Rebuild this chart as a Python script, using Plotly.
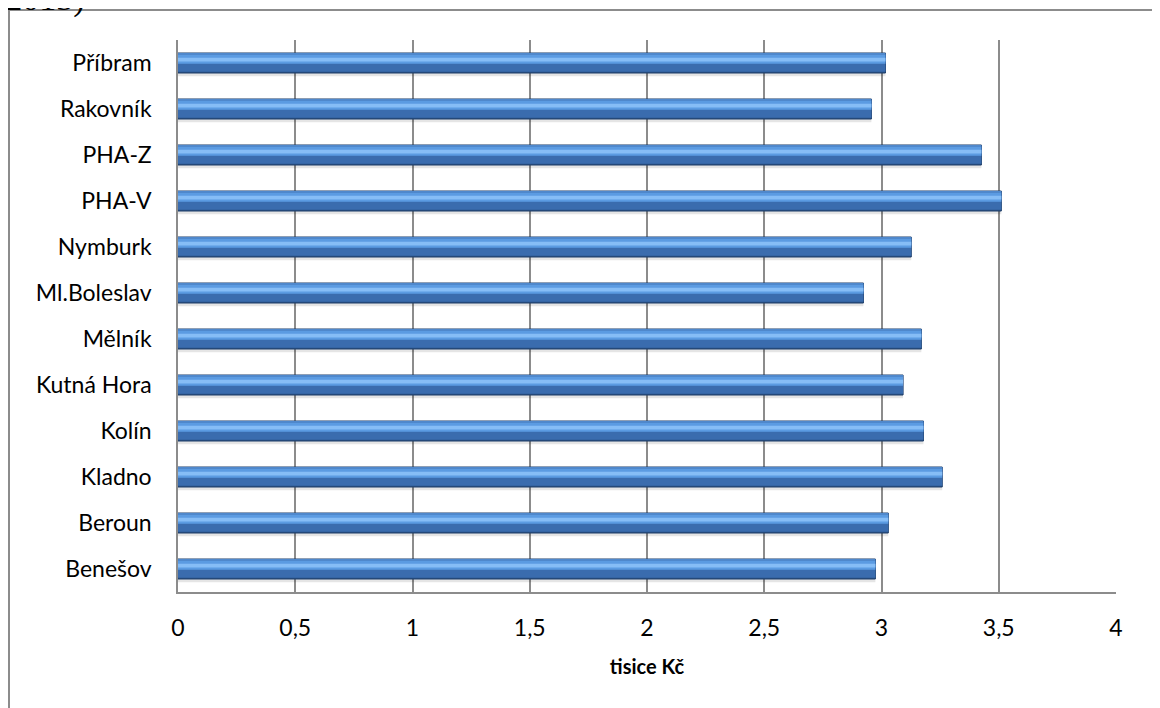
import plotly.graph_objects as go

# okresy (zdola nahoru, jak je kreslí plotly)
okresy = ["Benešov", "Beroun", "Kladno", "Kolín", "Kutná Hora", "Mělník",
          "Ml.Boleslav", "Nymburk", "PHA-V", "PHA-Z", "Rakovník", "Příbram"]
hodnoty = [2.974, 3.029, 3.259, 3.179, 3.092, 3.170,
           2.923, 3.127, 3.511, 3.426, 2.957, 3.017]

tick_vals = [0, 0.5, 1, 1.5, 2, 2.5, 3, 3.5, 4]
tick_text = ["0", "0,5", "1", "1,5", "2", "2,5", "3", "3,5", "4"]

W, H = 1160, 708
# stránka má okraj 8 px, proto je vše posunuto
L, R, T, B = 170, 52, 32, 124
PW, PH = W - L - R, H - T - B
font = "Lato"

fig = go.Figure()

bw = 0.435  # tloušťka pruhu v jednotkách kategorie
half = bw / 2

# "3D" vzhled pruhu skládáme z několika vrstev (offset, šířka, barva)
layers = [
    (-half - 0.07, bw, "rgba(0,0,0,0.10)", 0),          # stín
    (-half, bw, "#2b5286", 1),                            # okraj / tmavý spodek
    (-half + 0.03, bw - 0.05, "#3a6cae", 0),             # střed
    (-half + 0.20, 0.19, "#5b9be2", 0),                  # světlý pás
    (-half + 0.25, 0.08, "#86bdf6", 0),                  # odlesk
    (-half + 0.40, 0.03, "#4f88cc", 0),                  # horní hrana
]
for off, w, col, lw in layers:
    fig.add_trace(go.Bar(
        y=okresy, x=hodnoty, orientation="h",
        offset=off, width=w,
        marker=dict(color=col, line=dict(color="#1f3f6a", width=lw)),
        hoverinfo="x+y", showlegend=False,
    ))

fig.update_layout(
    width=W, height=H,
    margin=dict(l=L, r=R, t=T, b=B),
    barmode="overlay",
    paper_bgcolor="white", plot_bgcolor="white",
    font=dict(family=font, size=23, color="black"),
    xaxis=dict(
        range=[0, 4], tickvals=tick_vals, ticktext=tick_text,
        showgrid=True, gridcolor="#8c8c8c", gridwidth=1.5,
        showline=True, linecolor="#8c8c8c", linewidth=1.5,
        zeroline=False, ticks="", ticklabelstandoff=15,
        title=dict(text="<b>tisice Kč</b>", font=dict(size=20), standoff=20),
        fixedrange=True,
    ),
    yaxis=dict(
        range=[-0.5, 11.5], showgrid=False,
        showline=True, linecolor="#8c8c8c", linewidth=1.5,
        ticks="", ticklabelstandoff=20, fixedrange=True,
    ),
    shapes=[
        # rámeček grafu
        dict(type="line", xref="paper", yref="paper",
             x0=(1 - L) / PW, x1=(W + 10 - L) / PW,
             y0=(H - B - 2) / PH, y1=(H - B - 2) / PH,
             line=dict(color="#8c8c8c", width=2)),
        dict(type="line", xref="paper", yref="paper",
             x0=(1 - L) / PW, x1=(1 - L) / PW,
             y0=(H - B - 2) / PH, y1=-0.3,
             line=dict(color="#8c8c8c", width=2)),
    ],
    annotations=[
        dict(text="(2013)", xref="paper", yref="paper",
             x=(-16 - L) / PW, y=(H - B - 12) / PH,
             xanchor="left", yanchor="bottom", showarrow=False,
             font=dict(family="Liberation Serif", size=34, color="black")),
    ],
)

fig.write_html("out.html")
